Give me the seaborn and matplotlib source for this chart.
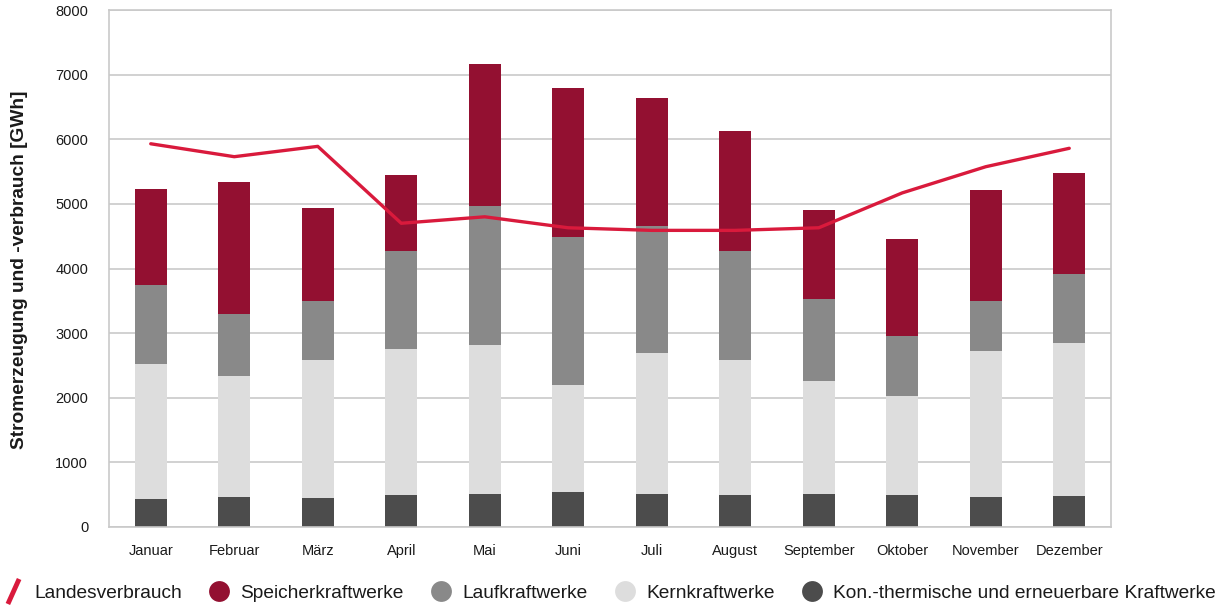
import numpy as np
import pandas as pd
import matplotlib
matplotlib.use("Agg")
import matplotlib.pyplot as plt
from matplotlib.lines import Line2D
from matplotlib.path import Path
import seaborn as sns

# Monthly electricity generation by source and national consumption [GWh]
months = ["Januar", "Februar", "März", "April", "Mai", "Juni",
          "Juli", "August", "September", "Oktober", "November", "Dezember"]
konv_thermisch = [440, 460, 450, 500, 515, 545, 515, 500, 515, 500, 465, 483]
kernkraft = [2075, 1870, 2130, 2250, 2295, 1645, 2185, 2080, 1740, 1520, 2255, 2357]
laufkraft = [1235, 960, 920, 1520, 2160, 2300, 1960, 1690, 1280, 930, 780, 1080]
speicher = [1480, 2050, 1440, 1180, 2200, 2300, 1975, 1855, 1370, 1510, 1710, 1560]
landesverbrauch = [5930, 5730, 5890, 4700, 4800, 4630, 4590, 4590, 4630, 5170, 5575, 5860]

series_names = ["Kon.-thermische und erneuerbare Kraftwerke", "Kernkraftwerke",
                "Laufkraftwerke", "Speicherkraftwerke"]
colors = {
    "Speicherkraftwerke": "#931031",
    "Laufkraftwerke": "#898989",
    "Kernkraftwerke": "#dddddd",
    "Kon.-thermische und erneuerbare Kraftwerke": "#4c4c4c",
}
line_color = "#d91a3c"
grid_color = "#c9c9c9"
text_color = "#1a1a1a"

sns.set_theme(style="white")
plt.rcParams["font.family"] = ["Liberation Sans", "DejaVu Sans"]
plt.rcParams["text.color"] = text_color

df = pd.DataFrame({
    "Monat": months,
    series_names[0]: konv_thermisch,
    series_names[1]: kernkraft,
    series_names[2]: laufkraft,
    series_names[3]: speicher,
})
# cumulative totals for stacking (bottom to top)
cum = df[series_names].cumsum(axis=1)

fig = plt.figure(figsize=(12.24, 6.05), dpi=100)
ax = fig.add_axes([109 / 1224, 1 - 527 / 605, (1111 - 109) / 1224, (527 - 10) / 605])

# draw tallest stack first, then overlay the lower segments
for name in reversed(series_names):
    sns.barplot(x=df["Monat"], y=cum[name], color=colors[name], width=0.38,
                saturation=1, ax=ax, zorder=2, linewidth=0)

sns.lineplot(x=np.arange(len(months)), y=landesverbrauch, color=line_color,
             linewidth=2.4, ax=ax, zorder=3)

ax.set_xlim(-0.5, len(months) - 0.5)
ax.set_ylim(0, 8000)
ax.set_yticks(np.arange(0, 8001, 1000))
ax.set_yticklabels([str(v) for v in range(0, 8001, 1000)])
ax.yaxis.grid(True, color=grid_color, linewidth=1.2, zorder=0)
ax.set_axisbelow(True)
ax.set_xlabel("")
ax.set_ylabel("")
ax.tick_params(axis="y", length=0, pad=15, labelsize=10.5, labelcolor=text_color)
ax.tick_params(axis="x", length=0, pad=12, labelsize=10.5, labelcolor=text_color)
for side in ["left", "right", "top", "bottom"]:
    ax.spines[side].set_visible(True)
    ax.spines[side].set_color(grid_color)
    ax.spines[side].set_linewidth(1.2)

fig.text(20 / 1224, 1 - 270 / 605, "Stromerzeugung und -verbrauch [GWh]",
         rotation=90, ha="center", va="center", fontsize=13.8, fontweight="bold",
         color=text_color)

# legend: slash for the consumption line, dots for the generation sources
slash = Path([(-0.45, -1.0), (0.45, 1.0)], [Path.MOVETO, Path.LINETO])
handles = [Line2D([], [], linestyle="none", marker=slash, markersize=18,
                  markeredgewidth=3.5, markeredgecolor=line_color)]
labels = ["Landesverbrauch"]
for name in reversed(series_names):
    handles.append(Line2D([], [], linestyle="none", marker="o", markersize=15,
                          markerfacecolor=colors[name], markeredgewidth=0))
    labels.append(name)

fig.legend(handles, labels, loc="center left", bbox_to_anchor=(0.003, 1 - 593 / 605),
           ncol=5, frameon=False, fontsize=13.8, handlelength=1.0,
           handletextpad=0.6, columnspacing=1.45, borderaxespad=0, borderpad=0)

fig.savefig("out.png", dpi=100)
